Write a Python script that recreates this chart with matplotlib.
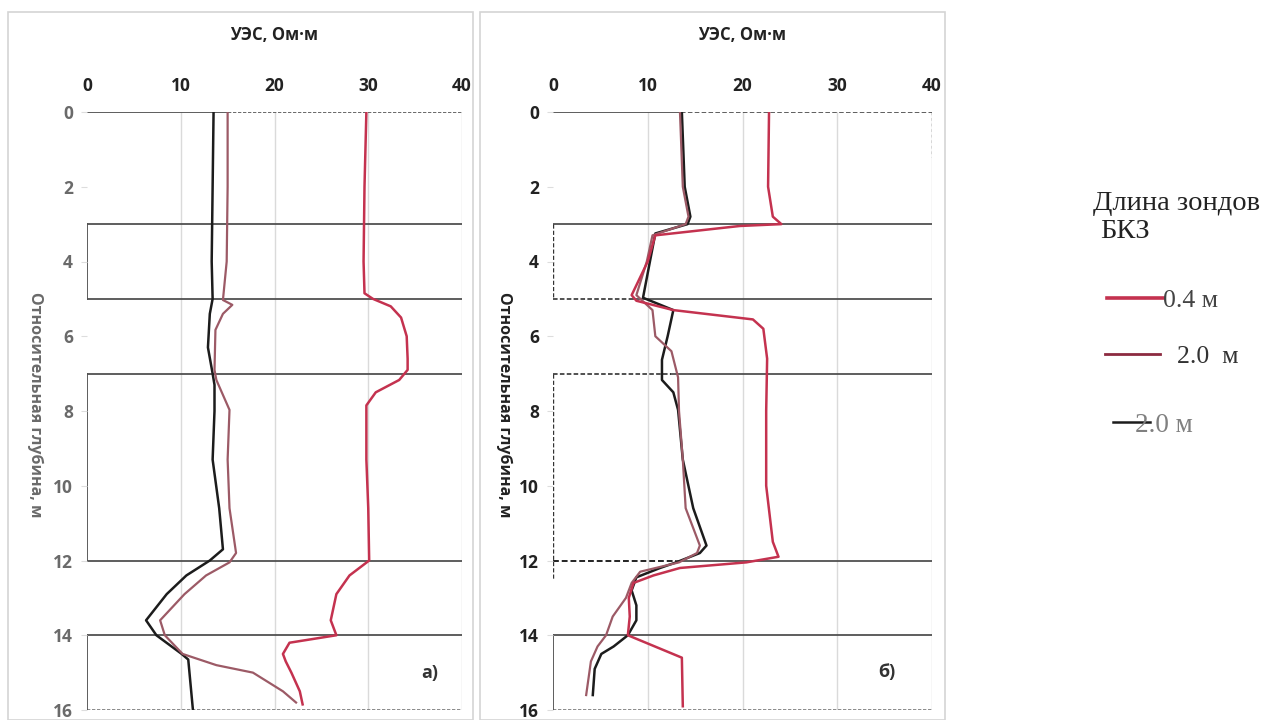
import matplotlib
matplotlib.use('Agg')
import matplotlib.pyplot as plt
from matplotlib.lines import Line2D
from matplotlib.patches import Rectangle

# panel a) - resistivity (Ohm*m) vs relative depth (m)
depth_a_04 = [0, 2, 4, 4.85, 5.0, 5.2, 5.5, 6.0, 6.6, 6.9, 7.17, 7.5, 7.85, 9.3, 10.6, 12.0, 12.4, 12.9,
              13.6, 14.0, 14.1, 14.2, 14.5, 14.7, 15.0, 15.5, 15.85]
res_a_04 = [29.8, 29.6, 29.5, 29.6, 30.5, 32.4, 33.5, 34.1, 34.2, 34.2, 33.3, 30.8, 29.8, 29.8, 30.0, 30.1, 28.0, 26.6,
            26.0, 26.6, 24.1, 21.6, 20.9, 21.2, 21.8, 22.7, 23.0]
depth_a_20 = [0, 2, 4, 5.03, 5.16, 5.4, 5.83, 6.9, 7.17, 7.97, 9.3, 10.6, 11.8, 12.05, 12.4, 12.9, 13.6, 14.0,
              14.5, 14.8, 15.0, 15.5, 15.8]
res_a_20 = [15.0, 15.0, 14.9, 14.5, 15.5, 14.5, 13.7, 13.6, 13.8, 15.2, 15.0, 15.2, 15.9, 15.2, 12.7, 10.4, 7.8, 8.3,
            10.2, 13.8, 17.7, 20.9, 22.3]
depth_a_bl = [0, 2, 4, 5.0, 5.4, 6.3, 7.0, 7.3, 8.0, 9.3, 10.6, 11.7, 12.0, 12.4, 12.9, 13.6, 14.0, 14.5, 14.65, 16.0]
res_a_bl = [13.5, 13.4, 13.3, 13.4, 13.1, 12.9, 13.4, 13.6, 13.6, 13.4, 14.1, 14.5, 13.1, 10.6, 8.5, 6.3, 7.4, 10.1,
            10.8, 11.3]

# panel б)
depth_b_04 = [0, 2, 2.8, 3.0, 3.05, 3.3, 4.0, 4.9, 5.05, 5.3, 5.55, 5.8, 6.6, 8.0, 10.0, 11.5, 11.9, 12.05, 12.2,
              12.4, 12.6, 13.0, 13.5, 14.0, 14.6, 15.9]
res_b_04 = [22.8, 22.7, 23.2, 24.1, 19.7, 10.8, 10.0, 8.3, 8.8, 12.7, 21.1, 22.2, 22.6, 22.5, 22.5, 23.2, 23.8, 20.4,
            13.4, 10.6, 8.5, 8.0, 8.1, 7.9, 13.6, 13.7]
depth_b_20 = [0, 2, 2.8, 3.0, 3.3, 4.0, 4.9, 5.3, 6.0, 6.4, 7.1, 8.0, 9.3, 10.6, 11.6, 11.8, 12.05, 12.3, 12.6,
              13.0, 13.5, 14.0, 14.3, 14.7, 15.6]
res_b_20 = [13.4, 13.7, 14.3, 14.0, 10.5, 9.9, 8.8, 10.5, 10.8, 12.5, 13.2, 13.3, 13.7, 14.0, 15.5, 15.2, 13.3, 9.2,
            8.3, 7.7, 6.3, 5.6, 4.7, 4.0, 3.5]
depth_b_bl = [0, 2, 2.8, 3.0, 3.25, 4.04, 4.97, 5.3, 6.0, 6.63, 7.17, 7.5, 7.97, 9.3, 10.6, 11.6, 11.8, 12.05, 12.2,
              12.45, 12.8, 13.2, 13.6, 14.0, 14.3, 14.5, 14.9, 15.6]
res_b_bl = [13.6, 13.9, 14.5, 14.2, 10.8, 10.2, 9.5, 12.7, 12.1, 11.5, 11.5, 12.7, 13.2, 13.7, 14.8, 16.2, 15.5, 13.0,
            11.3, 8.8, 8.3, 8.8, 8.8, 7.9, 6.4, 5.1, 4.4, 4.2]

x_ticks = [0, 10, 20, 30, 40]
y_ticks = [0, 2, 4, 6, 8, 10, 12, 14, 16]
legend_labels = ['0.4 м', '2.0  м', '2.0 м']

c04 = '#c4324f'
c20 = '#9c5a66'
cbl = '#1c1c1c'

plt.rcParams['font.family'] = ['Open Sans', 'DejaVu Sans']

fig = plt.figure(figsize=(12.62, 7.2), dpi=100)

# light frames round the panels
fig.add_artist(Rectangle((8 / 1262, 0), 465 / 1262, 1 - 12 / 720, transform=fig.transFigure,
                         fill=False, edgecolor='#d4d4d4', lw=1.2))
fig.add_artist(Rectangle((480 / 1262, 0), 465 / 1262, 1 - 12 / 720, transform=fig.transFigure,
                         fill=False, edgecolor='#d4d4d4', lw=1.2))

ax_a = fig.add_axes([87 / 1262, 1 - 710 / 720, 375 / 1262, 598 / 720])
ax_b = fig.add_axes([553 / 1262, 1 - 710 / 720, 379 / 1262, 598 / 720])

for ax, tick_col, lab_x in [(ax_a, '#6a6a6a', -0.16), (ax_b, '#222222', -0.15)]:
    ax.set_xlim(0, 40)
    ax.set_ylim(16, 0)
    for s in ax.spines.values():
        s.set_visible(False)
    ax.xaxis.tick_top()
    ax.set_xticks(x_ticks)
    ax.set_yticks(y_ticks)
    ax.tick_params(axis='x', length=0, pad=12, labelsize=12.5, labelcolor='#222222')
    ax.tick_params(axis='y', length=4, color='#dddddd', pad=6, labelsize=12.5, labelcolor=tick_col)
    for lab in ax.get_xticklabels() + ax.get_yticklabels():
        lab.set_fontweight('bold')
    for xv in [10, 20, 30, 40]:
        ax.axvline(xv, color='#dadada', lw=1, zorder=0)
    ax.set_xlabel('УЭС, Ом·м', fontsize=12, fontweight='bold', labelpad=27, color='#222222')
    ax.xaxis.set_label_position('top')
    ax.set_ylabel('Относительная глубина, м', fontsize=11.5, fontweight='bold', rotation=270,
                  labelpad=8, color=tick_col)
    ax.yaxis.set_label_coords(lab_x, 0.51)

# layer boundaries, panel a
gray = '#505050'
for d in [3, 5, 7, 12, 14]:
    ax_a.plot([0, 40], [d, d], color=gray, lw=1.3, zorder=1)
ax_a.plot([0, 15], [0, 0], color=gray, lw=1.3, zorder=1)
ax_a.plot([15, 40], [0, 0], color=gray, lw=1.2, ls=(0, (2, 1)), zorder=1)
ax_a.plot([0, 40], [16, 16], color='#777777', lw=1.2, ls=(0, (2, 1)), zorder=1)
for top, bot in [(3, 5), (7, 12), (14, 16)]:
    ax_a.plot([0, 0], [top, bot], color=gray, lw=1.3, zorder=1)

# layer boundaries, panel b
ax_b.plot([0, 13.5], [0, 0], color=gray, lw=1.3, zorder=1)
ax_b.plot([13.5, 40], [0, 0], color='#333333', lw=1.1, ls=(0, (3, 1.5)), zorder=1)
ax_b.plot([40, 40], [0, 1.2], color='#555555', lw=1, ls=(0, (2, 2)), zorder=1)
ax_b.plot([0, 40], [3, 3], color=gray, lw=1.3, zorder=1)
ax_b.plot([8.5, 40], [5, 5], color=gray, lw=1.3, zorder=1)
ax_b.plot([0, 8.5], [5, 5], color='#222222', lw=1.1, ls=(0, (3, 1.5)), zorder=1)
ax_b.plot([12.5, 40], [7, 7], color=gray, lw=1.3, zorder=1)
ax_b.plot([0, 12.5], [7, 7], color='#222222', lw=1.1, ls=(0, (3, 1.5)), zorder=1)
ax_b.plot([13, 40], [12, 12], color=gray, lw=1.3, zorder=1)
ax_b.plot([0, 13], [12, 12], color='#222222', lw=1.4, ls=(0, (3, 1.5)), zorder=1)
ax_b.plot([0, 40], [14, 14], color=gray, lw=1.3, zorder=1)
ax_b.plot([0, 40], [16, 16], color='#777777', lw=1.2, ls=(0, (2, 1)), zorder=1)
ax_b.plot([0, 0], [3, 5], color='#333333', lw=1, ls=(0, (3, 1.5)), zorder=1)
ax_b.plot([0, 0], [7, 12.5], color='#333333', lw=1, ls=(0, (3, 1.5)), zorder=1)
ax_b.plot([0, 0], [14, 16], color=gray, lw=1.3, zorder=1)

# curves
ax_a.plot(res_a_bl, depth_a_bl, color=cbl, lw=1.8, zorder=3)
ax_a.plot(res_a_20, depth_a_20, color=c20, lw=1.6, zorder=3)
ax_a.plot(res_a_04, depth_a_04, color=c04, lw=1.8, zorder=3)
ax_b.plot(res_b_bl, depth_b_bl, color=cbl, lw=1.8, zorder=3)
ax_b.plot(res_b_20, depth_b_20, color=c20, lw=1.6, zorder=3)
ax_b.plot(res_b_04, depth_b_04, color=c04, lw=1.8, zorder=3)

ax_a.text(0.915, 0.062, 'а)', transform=ax_a.transAxes, fontsize=13, fontweight='bold',
          color='#333333', ha='center', va='center')
ax_b.text(0.881, 0.064, 'б)', transform=ax_b.transAxes, fontsize=13, fontweight='bold',
          color='#333333', ha='center', va='center')

# legend drawn by hand like the original
serif = ['Liberation Serif', 'DejaVu Serif']
fig.text(1093 / 1262, 1 - 203 / 720, 'Длина зондов', family=serif, fontsize=20.5, color='#222222',
         ha='left', va='center')
fig.text(1100 / 1262, 1 - 232 / 720, 'БКЗ', family=serif, fontsize=20.5, color='#222222',
         ha='left', va='center')
leg = [(1107, 1163, 298, c04, 2.6, 1163, legend_labels[0], 18.5, '#444444'),
       (1105, 1160, 354, '#8c2a40', 2.0, 1177, legend_labels[1], 18.5, '#333333'),
       (1113, 1150, 422, cbl, 1.8, 1135, legend_labels[2], 19.5, '#808080')]
for x0, x1, yy, col, lw, tx, lab, fs, tcol in leg:
    fig.add_artist(Line2D([x0 / 1262, x1 / 1262], [1 - yy / 720, 1 - yy / 720], transform=fig.transFigure,
                          color=col, lw=lw))
    fig.text(tx / 1262, 1 - (yy + 3) / 720, lab, family=serif, fontsize=fs, color=tcol, ha='left', va='center')

fig.savefig('out.png', dpi=100)
